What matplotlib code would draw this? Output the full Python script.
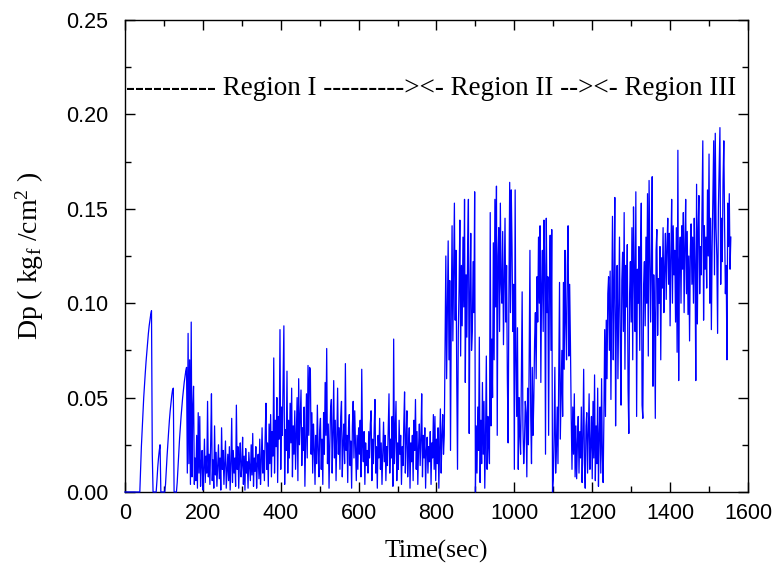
import numpy as np
import matplotlib
matplotlib.use("Agg")
import matplotlib.pyplot as plt
from matplotlib.ticker import MultipleLocator, FormatStrFormatter

DT = 2

# start-up ramps, t = 0 .. 174
dp_startup = [
    0.0, 0.0, 0.0, 0.0, 0.0, 0.0, 0.0, 0.0, 0.0, 0.0,
    0.0, 0.0, 0.0, 0.0, 0.0, 0.0, 0.0, 0.0, 0.0,
    0.0, 0.012, 0.024, 0.033, 0.042, 0.050, 0.057, 0.063, 0.069, 0.074,
    0.079, 0.084, 0.088, 0.091, 0.094, 0.096, 0.020, 0.0,
    0.0, 0.0, 0.0, 0.0,
    0.006, 0.013, 0.018, 0.022, 0.025, 0.0,
    0.0, 0.0, 0.0, 0.0, 0.0,
    0.004, 0.012, 0.019, 0.026, 0.032, 0.038, 0.043, 0.047, 0.051, 0.054, 0.055, 0.0,
    0.0, 0.0, 0.0,
    0.005, 0.013, 0.021, 0.028, 0.034, 0.040, 0.045, 0.050, 0.054, 0.058,
    0.061, 0.064, 0.066, 0.010, 0.084, 0.015, 0.070, 0.004, 0.090, 0.008, 0.045,
]

# region I, t = 176 .. 818
dp_region1 = [
    0.056, 0.004, 0.018, 0.006, 0.030, 0.002, 0.042, 0.010, 0.040, 0.003,
    0.015, 0.022, 0.001, 0.012, 0.028, 0.005, 0.019, 0.010, 0.048, 0.008,
    0.020, 0.004, 0.026, 0.052, 0.006, 0.017, 0.002, 0.035, 0.009, 0.021,
    0.003, 0.014, 0.025, 0.007, 0.018, 0.001, 0.034, 0.012, 0.022, 0.004,
    0.016, 0.027, 0.002, 0.011, 0.020, 0.006, 0.024, 0.001, 0.015, 0.039,
    0.005, 0.022, 0.010, 0.018, 0.003, 0.046, 0.012, 0.024, 0.002, 0.017,
    0.026, 0.008, 0.014, 0.029, 0.004, 0.019, 0.001, 0.023, 0.010, 0.016,
    0.002, 0.021, 0.013, 0.006, 0.025, 0.009, 0.031, 0.003, 0.018, 0.011,
    0.024, 0.002, 0.015, 0.020, 0.007, 0.028, 0.004, 0.016, 0.034, 0.010,
    0.022, 0.006, 0.030, 0.047, 0.012, 0.026, 0.003, 0.036, 0.015, 0.041,
    0.008, 0.032, 0.019, 0.071, 0.010, 0.038, 0.024, 0.050, 0.005, 0.040,
    0.028, 0.086, 0.012, 0.045, 0.030, 0.060, 0.088, 0.004, 0.033, 0.022,
    0.064, 0.010, 0.038, 0.018, 0.047, 0.026, 0.055, 0.008, 0.035, 0.020,
    0.043, 0.012, 0.030, 0.050, 0.006, 0.060, 0.025, 0.040, 0.054, 0.014,
    0.034, 0.022, 0.045, 0.003, 0.028, 0.052, 0.018, 0.067, 0.030, 0.066,
    0.065, 0.020, 0.042, 0.010, 0.036, 0.024, 0.004, 0.030, 0.015, 0.046,
    0.022, 0.008, 0.033, 0.039, 0.012, 0.028, 0.004, 0.042, 0.020, 0.058,
    0.030, 0.076, 0.015, 0.036, 0.002, 0.025, 0.044, 0.049, 0.010, 0.030,
    0.059, 0.018, 0.038, 0.006, 0.028, 0.055, 0.020, 0.034, 0.012, 0.040,
    0.048, 0.008, 0.026, 0.036, 0.015, 0.068, 0.022, 0.030, 0.005, 0.034,
    0.041, 0.014, 0.027, 0.002, 0.035, 0.048, 0.018, 0.043, 0.024, 0.006,
    0.030, 0.012, 0.034, 0.020, 0.038, 0.008, 0.065, 0.025, 0.016, 0.032,
    0.004, 0.026, 0.014, 0.022, 0.010, 0.032, 0.018, 0.036, 0.043, 0.006,
    0.028, 0.015, 0.034, 0.049, 0.010, 0.024, 0.002, 0.030, 0.018, 0.039,
    0.012, 0.026, 0.004, 0.021, 0.037, 0.016, 0.030, 0.006, 0.024, 0.014,
    0.034, 0.052, 0.010, 0.028, 0.018, 0.040, 0.003, 0.081, 0.015, 0.032,
    0.048, 0.006, 0.026, 0.012, 0.038, 0.020, 0.030, 0.004, 0.024, 0.014,
    0.036, 0.053, 0.010, 0.028, 0.043, 0.008, 0.022, 0.034, 0.002, 0.026,
    0.016, 0.030, 0.006, 0.038, 0.022, 0.049, 0.012, 0.032, 0.004, 0.024,
    0.036, 0.014, 0.028, 0.052, 0.008, 0.030, 0.018, 0.034, 0.002, 0.022,
    0.029, 0.010, 0.024, 0.016, 0.032, 0.004, 0.026, 0.018, 0.041, 0.012,
    0.040, 0.006, 0.028, 0.015, 0.034, 0.002, 0.024, 0.044, 0.010, 0.030,
    0.041, 0.020,
]

# region II, t = 820 .. 1230
dp_region2 = [
    0.030, 0.077, 0.125, 0.060, 0.098, 0.133, 0.070, 0.112, 0.022, 0.095,
    0.141, 0.080, 0.118, 0.153, 0.091, 0.128, 0.060, 0.012, 0.085, 0.108,
    0.144, 0.072, 0.120, 0.088, 0.135, 0.098, 0.155, 0.058, 0.115, 0.082,
    0.130, 0.155, 0.031, 0.105, 0.137, 0.075, 0.085, 0.122, 0.095, 0.159,
    0.000, 0.035, 0.010, 0.045, 0.022, 0.082, 0.005, 0.038, 0.015, 0.058,
    0.020, 0.048, 0.002, 0.030, 0.072, 0.012, 0.040, 0.025, 0.015, 0.148,
    0.035, 0.081, 0.050, 0.132, 0.070, 0.155, 0.098, 0.162, 0.030, 0.125,
    0.140, 0.085, 0.153, 0.110, 0.100, 0.138, 0.078, 0.113, 0.145, 0.090,
    0.120, 0.060, 0.026, 0.105, 0.164, 0.095, 0.160, 0.130, 0.085, 0.110,
    0.012, 0.160, 0.070, 0.040, 0.087, 0.012, 0.050, 0.030, 0.020, 0.060,
    0.106, 0.035, 0.015, 0.026, 0.048, 0.042, 0.008, 0.055, 0.025, 0.070,
    0.128, 0.040, 0.015, 0.066, 0.030, 0.050, 0.080, 0.095, 0.060, 0.114,
    0.090, 0.135, 0.100, 0.141, 0.058, 0.110, 0.128, 0.085, 0.144, 0.120,
    0.020, 0.145, 0.095, 0.114, 0.030, 0.108, 0.136, 0.075, 0.139, 0.000,
    0.007, 0.030, 0.066, 0.010, 0.024, 0.045, 0.015, 0.060, 0.111, 0.028,
    0.050, 0.075, 0.040, 0.111, 0.065, 0.128, 0.090, 0.070, 0.120, 0.141,
    0.072, 0.110, 0.079, 0.040, 0.012, 0.045, 0.020, 0.052, 0.008, 0.035,
    0.007, 0.026, 0.040, 0.010, 0.032, 0.018, 0.045, 0.005, 0.028, 0.065,
    0.015, 0.002, 0.035, 0.042, 0.010, 0.030, 0.052, 0.012, 0.025, 0.040,
    0.007, 0.048, 0.018, 0.062, 0.006, 0.035, 0.015, 0.055, 0.003, 0.030,
    0.045, 0.010, 0.060, 0.020, 0.005, 0.040,
]

# region III, t = 1232 .. 1556
dp_region3 = [
    0.086, 0.040, 0.091, 0.060, 0.105, 0.114, 0.075, 0.117, 0.049, 0.095,
    0.146, 0.070, 0.110, 0.156, 0.035, 0.090, 0.120, 0.060, 0.100, 0.135,
    0.080, 0.046, 0.112, 0.127, 0.085, 0.148, 0.065, 0.120, 0.098, 0.131,
    0.055, 0.031, 0.105, 0.122, 0.090, 0.140, 0.070, 0.151, 0.115, 0.085,
    0.159, 0.040, 0.118, 0.100, 0.130, 0.075, 0.125, 0.153, 0.046, 0.039,
    0.110, 0.122, 0.088, 0.135, 0.100, 0.158, 0.072, 0.165, 0.125, 0.090,
    0.120, 0.167, 0.056, 0.115, 0.095, 0.039, 0.128, 0.139, 0.083, 0.113,
    0.100, 0.130, 0.070, 0.124, 0.108, 0.140, 0.095, 0.118, 0.137, 0.102,
    0.130, 0.145, 0.110, 0.137, 0.088, 0.126, 0.155, 0.100, 0.141, 0.115,
    0.128, 0.090, 0.140, 0.074, 0.181, 0.059, 0.122, 0.135, 0.100, 0.141,
    0.118, 0.148, 0.095, 0.130, 0.155, 0.105, 0.138, 0.094, 0.125, 0.080,
    0.128, 0.142, 0.110, 0.135, 0.100, 0.145, 0.120, 0.059, 0.163, 0.089,
    0.140, 0.157, 0.105, 0.130, 0.115, 0.150, 0.186, 0.091, 0.141, 0.118,
    0.135, 0.108, 0.160, 0.125, 0.179, 0.100, 0.145, 0.086, 0.130, 0.160,
    0.186, 0.115, 0.190, 0.140, 0.125, 0.084, 0.150, 0.172, 0.193, 0.110,
    0.145, 0.122, 0.165, 0.186, 0.140, 0.105, 0.120, 0.070, 0.153, 0.130,
    0.158, 0.118, 0.135,
]

seg_start = [0, 176, 820, 1232]
segments = [dp_startup, dp_region1, dp_region2, dp_region3]

time = np.concatenate([s + DT * np.arange(len(v)) for s, v in zip(seg_start, segments)])
dp = np.concatenate([np.array(v) for v in segments])

region_text = "---------- Region I ---------><- Region II --><- Region III"

# --- plot ---
plt.rcParams['font.family'] = ['Liberation Sans', 'DejaVu Sans']
plt.rcParams['mathtext.fontset'] = 'custom'
plt.rcParams['mathtext.rm'] = 'Liberation Serif'
plt.rcParams['mathtext.it'] = 'Liberation Serif:italic'

fig = plt.figure(figsize=(7.78, 5.73), dpi=100)
ax = fig.add_axes([0.1607, 0.1414, 0.8007, 0.8237])

# draw over the spines so the zero stretches show on the axis, as in the original
ax.plot(time, dp, color='#0000ff', linewidth=0.9, zorder=3, clip_on=False)

ax.set_xlim(0, 1600)
ax.set_ylim(0, 0.25)
ax.xaxis.set_major_locator(MultipleLocator(200))
ax.xaxis.set_minor_locator(MultipleLocator(100))
ax.yaxis.set_major_locator(MultipleLocator(0.05))
ax.yaxis.set_minor_locator(MultipleLocator(0.025))
ax.yaxis.set_major_formatter(FormatStrFormatter('%.2f'))
ax.tick_params(which='both', direction='in', top=True, right=True, labelsize=15.5)
ax.tick_params(which='major', length=7, width=1)
ax.tick_params(which='minor', length=4, width=1)
ax.tick_params(axis='x', which='major', pad=8)
ax.tick_params(axis='y', which='major', pad=12)
for sp in ax.spines.values():
    sp.set_linewidth(1.0)

ax.set_xlabel("Time(sec)", family='Liberation Serif', fontsize=18.5)
ax.xaxis.set_label_coords(0.5, -0.102)
ax.set_ylabel("Dp ( kg$_\\mathrm{f}$ /cm$^\\mathrm{2}$ )", family='Liberation Serif',
              fontsize=20)
ax.yaxis.set_label_coords(-0.127, 0.5)

ax.text(3, 0.2135, region_text, family='Liberation Serif', fontsize=19.5,
        ha='left', va='center')

fig.savefig("out.png", dpi=100)
